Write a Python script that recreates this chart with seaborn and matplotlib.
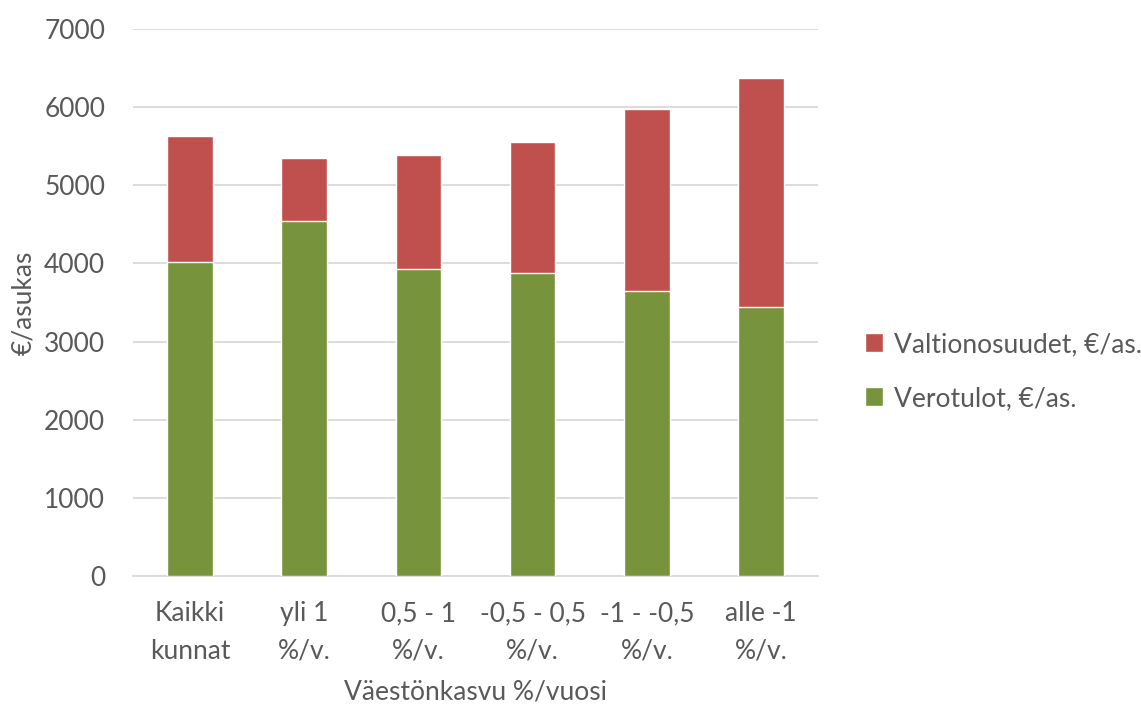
import matplotlib
matplotlib.use("Agg")
import matplotlib.pyplot as plt
import seaborn as sns
import pandas as pd
from matplotlib.patches import Patch

categories = ["Kaikki\nkunnat", "yli 1\n%/v.", "0,5 - 1\n%/v.", "-0,5 - 0,5\n%/v.", "-1 - -0,5\n%/v.", "alle -1\n%/v."]
verotulot = [4020, 4540, 3925, 3875, 3645, 3440]
valtionosuudet = [1605, 815, 1465, 1680, 2335, 2930]

RED = "#C0504D"
GREEN = "#77933C"
TEXT = "#595959"
GRID = "#D9D9D9"
FS = 19

sns.set_theme(style="white")
plt.rcParams["font.family"] = ["Lato", "DejaVu Sans"]

df = pd.DataFrame({
    "kategoria": categories,
    "vero": verotulot,
    "valtio": valtionosuudet,
})
df["yhteensa"] = df["vero"] + df["valtio"]

fig = plt.figure(figsize=(11.41, 7.06), dpi=100)
ax = fig.add_axes([0.1166, 0.184, 0.6004, 0.775])

# stacked bars: total height in red, tax revenue in green drawn over it
sns.barplot(data=df, x="kategoria", y="yhteensa", color=RED, width=0.4,
            saturation=1, ax=ax, zorder=3)
sns.barplot(data=df, x="kategoria", y="vero", color=GREEN, width=0.4,
            saturation=1, ax=ax, zorder=4)

ax.set_ylim(0, 7000)
ax.set_xlim(-0.5, len(categories) - 0.5)
ax.set_yticks(range(0, 7001, 1000))
ax.yaxis.grid(True, color=GRID, linewidth=1.3, zorder=0)
ax.xaxis.grid(False)
for s in ["top", "right", "left"]:
    ax.spines[s].set_visible(False)
ax.spines["bottom"].set_color(GRID)
ax.spines["bottom"].set_linewidth(1.3)
ax.tick_params(axis="both", length=0, labelsize=FS, colors=TEXT)
ax.tick_params(axis="x", pad=18)
ax.tick_params(axis="y", pad=20)
ax.set_xticks(range(len(categories)))
ax.set_xticklabels(categories, linespacing=1.64)

ax.set_xlabel("Väestönkasvu %/vuosi", fontsize=FS, color=TEXT, labelpad=11)
ax.set_ylabel("€/asukas", fontsize=FS, color=TEXT, labelpad=6)

handles = [Patch(facecolor=RED, label="Valtionosuudet, €/as."),
           Patch(facecolor=GREEN, label="Verotulot, €/as.")]
leg = fig.legend(handles=handles, loc="center left", bbox_to_anchor=(0.737, 0.474),
                 frameon=False, fontsize=FS, labelspacing=1.1, handlelength=0.7,
                 handleheight=0.7, handletextpad=0.4)
for t in leg.get_texts():
    t.set_color(TEXT)

fig.savefig("out.png", dpi=100)
